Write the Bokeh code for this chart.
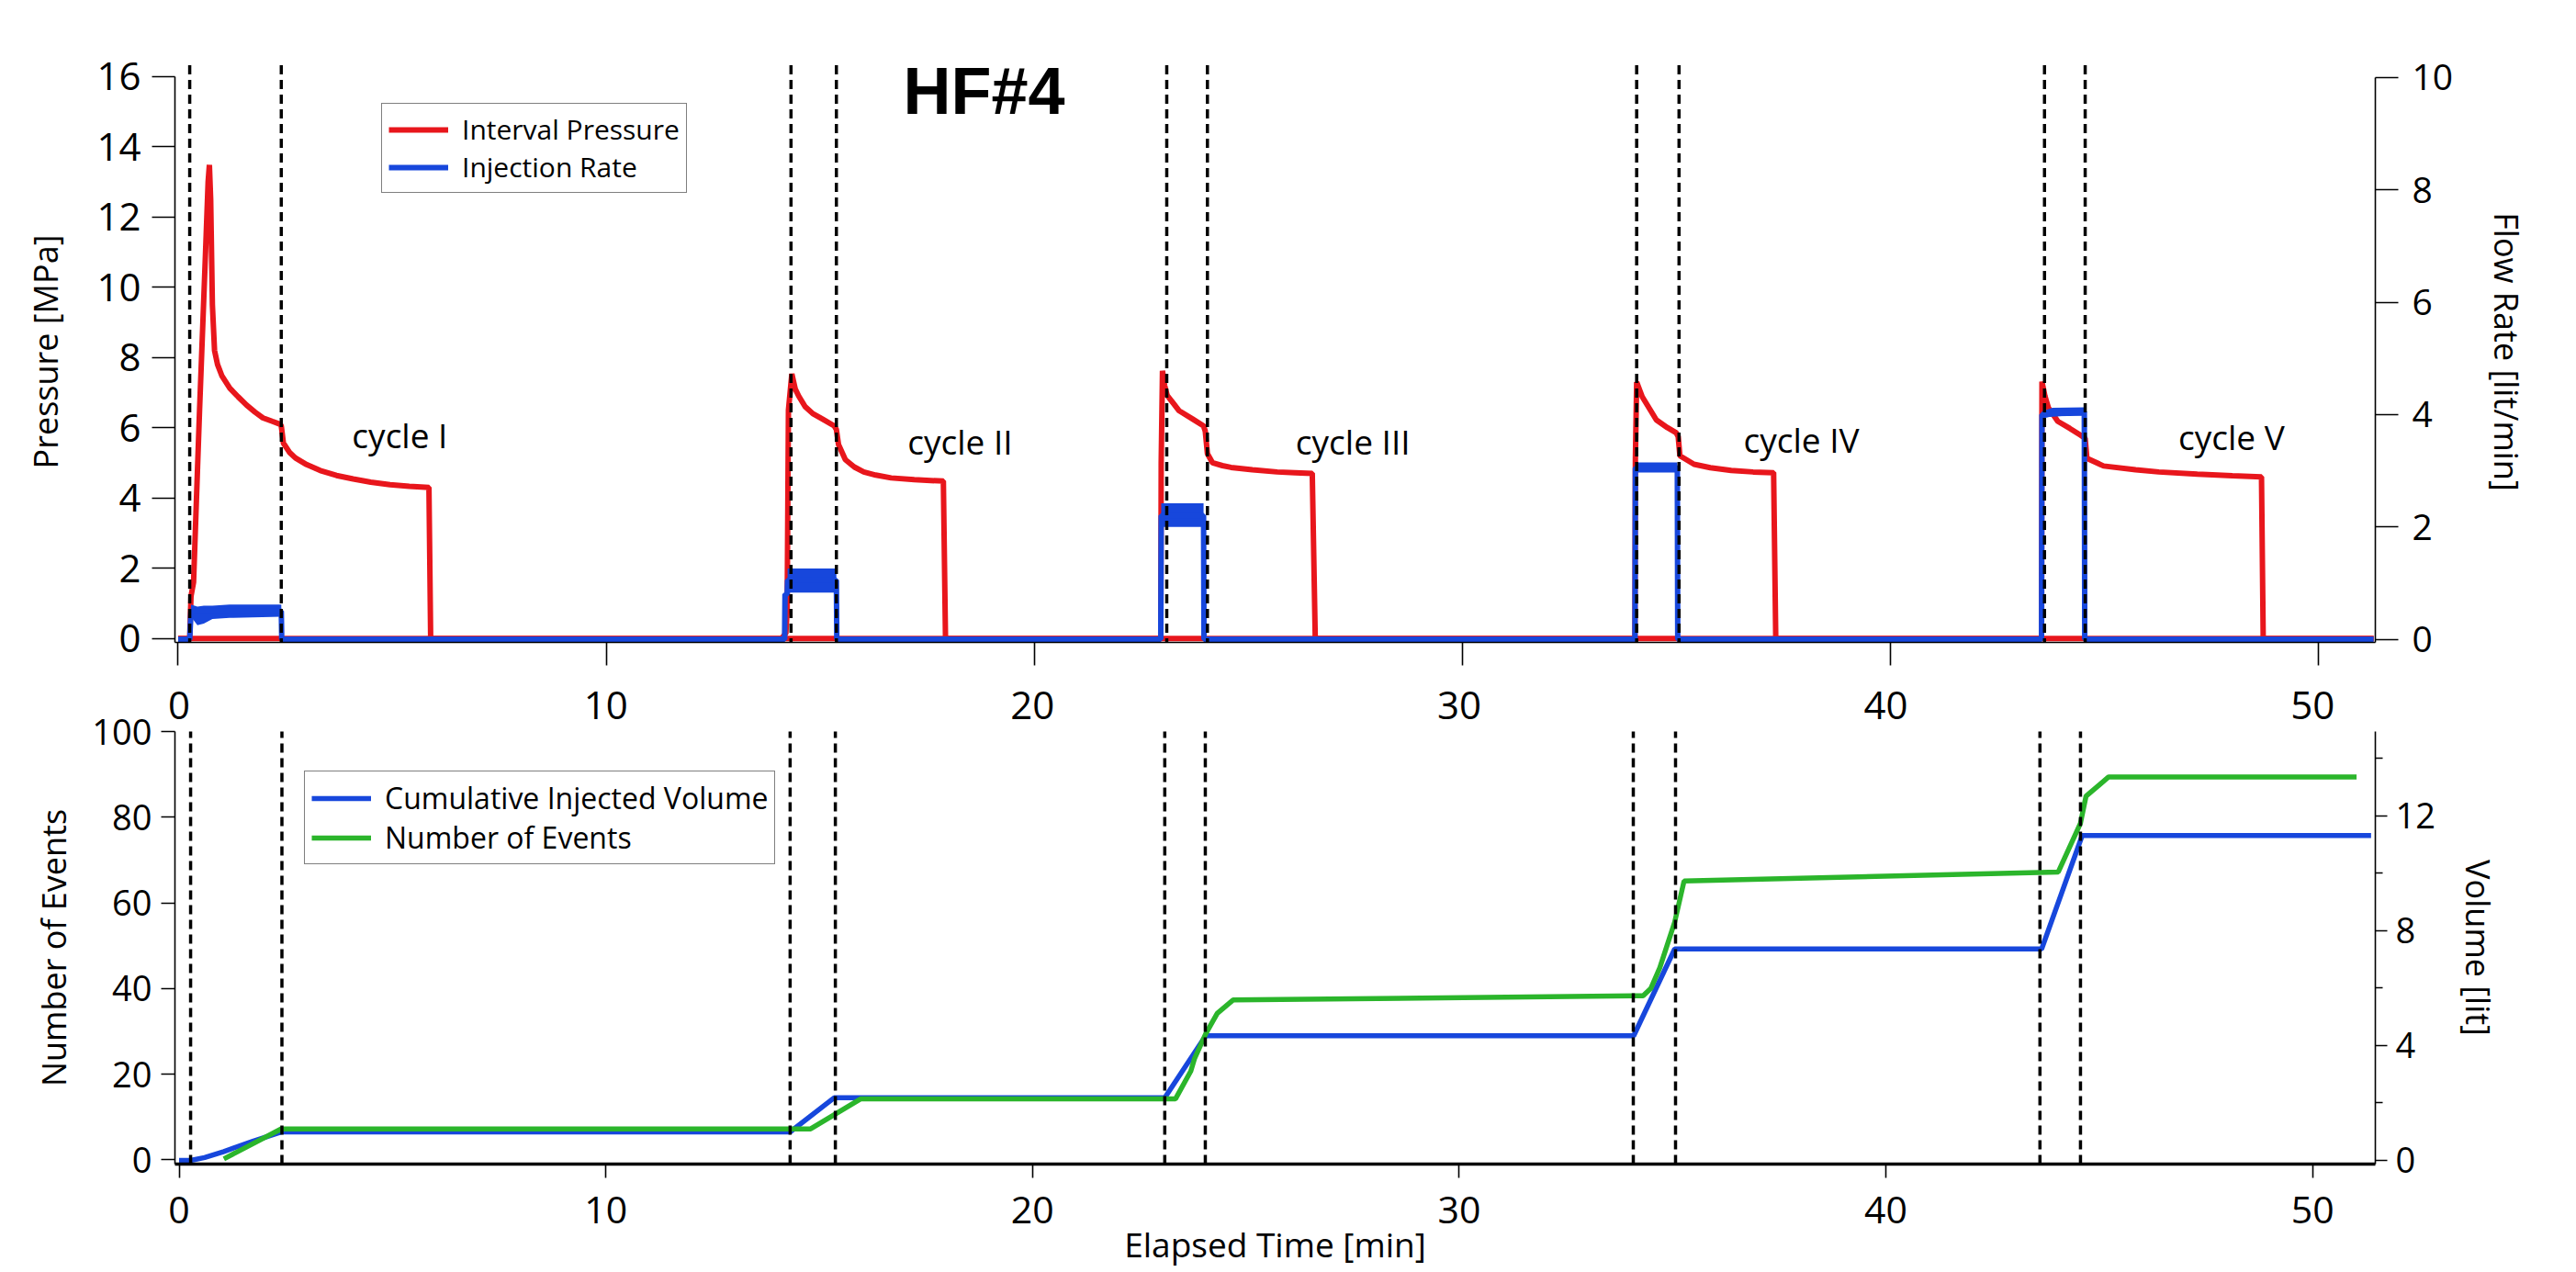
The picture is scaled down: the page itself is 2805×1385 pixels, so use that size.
from bokeh.plotting import figure
from bokeh.models import (Range1d, LinearAxis, FixedTicker, Arrow, ColumnDataSource,
                          Legend, LegendItem)
from bokeh.layouts import column
from bokeh.embed import file_html
from bokeh.resources import INLINE
from bokeh.core.properties import value

# ---------------------------------------------------------------- data
# top panel : interval pressure [MPa] against elapsed time [min]
pressure_t = [0.0, 0.27, 0.30, 0.36, 0.50, 0.64, 0.70, 0.73, 0.76, 0.80, 0.85, 0.92, 1.02, 1.21,
              1.40, 1.60, 1.80, 1.98, 2.20, 2.38, 2.41, 2.46, 2.60, 2.74, 3.00, 3.32, 3.70, 4.09,
              4.50, 4.95, 5.40, 5.86, 5.90,
              14.10, 14.20, 14.23, 14.26, 14.34, 14.42, 14.50, 14.65, 14.83, 15.05, 15.33, 15.38,
              15.43, 15.59, 15.80, 16.02, 16.30, 16.66, 17.20, 17.88, 17.93,
              22.96, 22.97, 23.00, 23.05, 23.11, 23.25, 23.39, 23.70, 23.96, 24.00, 24.05, 24.17,
              24.40, 24.60, 25.10, 25.68, 26.10, 26.50, 26.57,
              34.04, 34.05, 34.08, 34.21, 34.40, 34.54, 34.80, 35.00, 35.05, 35.09, 35.42, 35.80,
              36.29, 36.80, 37.28, 37.33,
              43.54, 43.55, 43.62, 43.70, 43.92, 44.20, 44.45, 44.56, 44.60, 44.99, 45.74, 46.28,
              47.18, 48.00, 48.68, 48.72, 51.30]
pressure = [0.0, 0.0, 1.2, 1.6, 6.5, 11.0, 13.0, 13.48, 12.5, 9.5, 8.2, 7.8, 7.48, 7.12,
            6.88, 6.64, 6.44, 6.28, 6.18, 6.10, 6.05, 5.56, 5.30, 5.14, 4.95, 4.78, 4.64, 4.54,
            4.45, 4.38, 4.33, 4.30, 0.0,
            0.0, 0.15, 0.8, 6.5, 7.53, 7.10, 6.90, 6.60, 6.40, 6.25, 6.05, 5.95,
            5.52, 5.09, 4.88, 4.74, 4.65, 4.57, 4.52, 4.48, 0.0,
            0.0, 5.0, 7.62, 7.20, 6.92, 6.70, 6.48, 6.25, 6.05, 5.90, 5.26, 5.00,
            4.92, 4.87, 4.80, 4.74, 4.72, 4.70, 0.0,
            0.0, 5.1, 7.30, 6.88, 6.50, 6.22, 6.00, 5.86, 5.75, 5.20, 4.96, 4.86,
            4.78, 4.74, 4.72, 0.0,
            0.0, 7.31, 6.90, 6.57, 6.18, 5.98, 5.79, 5.70, 5.13, 4.91, 4.80, 4.74,
            4.68, 4.63, 4.60, 0.0, 0.0]
# second pressure trace that stays at zero
pressure_zero_t = [0.0, 51.30]
pressure_zero = [0.0, 0.0]

# top panel : injection rate [lit/min]
flow_t = [0.0, 0.27, 0.30, 2.41, 2.42, 14.17, 14.18, 14.23, 14.24, 15.38, 15.39,
          22.96, 22.97, 23.96, 23.97, 34.04, 34.05, 35.03, 35.04, 43.54, 43.55, 44.54, 44.55, 51.30]
flow = [0.0, 0.0, 0.50, 0.50, 0.0, 0.0, 0.80, 0.80, 1.05, 1.05, 0.0,
        0.0, 2.20, 2.20, 0.0, 0.0, 3.05, 3.05, 0.0, 0.0, 4.00, 4.05, 0.0, 0.0]
# fluctuation envelope of the injection rate in each injection phase
flow_band_t = [[0.30, 0.45, 0.60, 0.80, 1.20, 2.41], [14.24, 15.38], [22.97, 23.96],
               [34.05, 35.03], [43.55, 43.80, 44.54]]
flow_band_lo = [[0.40, 0.25, 0.28, 0.36, 0.38, 0.40], [0.83, 0.83], [2.00, 2.00],
                [2.97, 2.97], [3.93, 3.97, 3.98]]
flow_band_hi = [[0.62, 0.58, 0.60, 0.60, 0.62, 0.62], [1.26, 1.26], [2.42, 2.42],
                [3.15, 3.15], [4.06, 4.12, 4.13]]

# bottom panel : cumulative injected volume [lit]
volume_t = [0.0, 0.27, 0.60, 1.05, 1.73, 2.39, 14.32, 15.35, 23.10, 24.06, 34.09, 35.05,
            43.65, 44.60, 51.37]
volume = [0.0, 0.0, 0.10, 0.31, 0.67, 0.99, 0.99, 2.18, 2.18, 4.34, 4.34, 7.36,
          7.36, 11.31, 11.31]
# bottom panel : number of events
events_t = [1.05, 2.39, 14.80, 15.97, 23.35, 23.71, 23.80, 24.06, 24.33, 24.70, 34.31, 34.49,
            34.70, 35.05, 35.27, 44.04, 44.56, 44.69, 45.22, 51.03]
events = [0.2, 7.2, 7.2, 14.2, 14.2, 20.7, 23.7, 29.4, 34.2, 37.3, 38.3, 40.0,
          44.8, 55.5, 65.1, 67.2, 78.6, 84.9, 89.4, 89.4]

# start / end of each injection phase [min]
phase_bounds = [0.27, 2.41, 14.32, 15.38, 23.10, 24.05, 34.08, 35.07, 43.61, 44.56]

cycle_names = ["cycle I", "cycle II", "cycle III", "cycle IV", "cycle V"]
cycle_label_x = [5.18, 18.27, 27.45, 37.93, 47.98]
cycle_label_y = [5.80, 5.61, 5.61, 5.67, 5.74]
title_text = ["HF#4"]
title_x = [18.83]
title_y = [15.58]

time_ticks = [0, 10, 20, 30, 40, 50]
pressure_ticks = [0, 2, 4, 6, 8, 10, 12, 14, 16]
flow_ticks = [0, 2, 4, 6, 8, 10]
events_ticks = [0, 20, 40, 60, 80, 100]
volume_ticks = [0, 4, 8, 12]
volume_minor_ticks = [2, 6, 10, 14]

# ---------------------------------------------------------------- style
FONT = "Open Sans"
RED = "#e8161c"
BLUE = "#1747dc"
GREEN = "#2bb52b"
W = 2800

X1 = (-0.075, 51.34)
Y1 = (-0.112, 16.434)
F1 = (-0.056, 10.294)
DASH_TOP = 17.32          # phase markers reach above the pressure frame
X2 = (-0.097, 51.47)
Y2 = (-1.008, 100.0)
V2 = (-0.128, 14.93)


def style_axis(ax, size, tick_out, standoff, width=1.6):
    ax.axis_line_color = "black"
    ax.axis_line_width = width
    ax.major_tick_line_color = "black"
    ax.major_tick_line_width = 1.6
    ax.major_tick_out = tick_out
    ax.major_tick_in = 0
    ax.minor_tick_line_color = None
    ax.major_label_text_font = FONT
    ax.major_label_text_font_size = size
    ax.major_label_text_color = "black"
    ax.major_label_standoff = standoff
    ax.axis_label_text_font = FONT
    ax.axis_label_text_font_style = "normal"
    ax.axis_label_text_font_size = "36px"
    ax.axis_label_text_color = "black"


def style_legend(leg, size):
    leg.label_text_font = FONT
    leg.label_text_font_size = size
    leg.label_text_color = "black"
    leg.glyph_width = 65
    leg.glyph_height = 30
    leg.label_standoff = 15
    leg.padding = 7
    leg.spacing = 0
    leg.margin = 0
    leg.border_line_color = "black"
    leg.border_line_width = 1.5
    leg.background_fill_alpha = 1.0


# ---------------------------------------------------------------- top panel
p1 = figure(width=W, height=727, output_backend="svg", toolbar_location=None,
            x_range=Range1d(*X1), y_range=Range1d(*Y1),
            min_border_left=190, min_border_right=214, min_border_top=66, min_border_bottom=28)
p1.extra_y_ranges = {"flow": Range1d(*F1)}
p1.grid.visible = False
p1.outline_line_color = None
p1.background_fill_color = "white"
p1.border_fill_color = "white"

style_axis(p1.xaxis[0], "1px", 25, 0)
p1.xaxis[0].ticker = FixedTicker(ticks=time_ticks)
p1.xaxis[0].major_label_overrides = {t: "" for t in time_ticks}

style_axis(p1.yaxis[0], "42px", 25, 12)
p1.yaxis[0].ticker = FixedTicker(ticks=pressure_ticks)
p1.yaxis[0].bounds = (Y1[0], 16)
p1.yaxis[0].axis_label = "Pressure [MPa]"
p1.yaxis[0].axis_label_standoff = 28

ax_flow = LinearAxis(y_range_name="flow", ticker=FixedTicker(ticks=flow_ticks),
                     axis_label="Flow Rate [lit/min]")
style_axis(ax_flow, "39px", 25, 15)
ax_flow.bounds = (F1[0], 10)
ax_flow.axis_label_standoff = 31
p1.add_layout(ax_flow, "right")

r_press = p1.line(pressure_t, pressure, line_color=RED, line_width=6)
p1.line(pressure_zero_t, pressure_zero, line_color=RED, line_width=6)
for bt, lo, hi in zip(flow_band_t, flow_band_lo, flow_band_hi):
    p1.varea(x=bt, y1=lo, y2=hi, fill_color=BLUE, y_range_name="flow")
r_flow = p1.line(flow_t, flow, line_color=BLUE, line_width=6, y_range_name="flow")

p1.text(x=cycle_label_x, y=cycle_label_y, text=cycle_names, text_font=value(FONT),
        text_font_size="37px", text_align="center", text_baseline="middle", text_color="black")
p1.text(x=title_x, y=title_y, text=title_text, text_font=value("Liberation Sans"),
        text_font_style="bold", text_font_size="72px", text_align="center",
        text_baseline="middle", text_color="black")

dash1 = ColumnDataSource(dict(x=phase_bounds,
                              y0=[Y1[0] - 6] * len(phase_bounds),
                              y1=[DASH_TOP] * len(phase_bounds)))
p1.add_layout(Arrow(end=None, source=dash1, x_start="x", y_start="y0", x_end="x", y_end="y1",
                    line_color="black", line_width=3.5, line_dash="10 6"))

leg1 = Legend(items=[LegendItem(label="Interval Pressure", renderers=[r_press]),
                     LegendItem(label="Injection Rate", renderers=[r_flow])],
              location=(225, 489))
style_legend(leg1, "30px")
p1.add_layout(leg1, "center")

# ---------------------------------------------------------------- bottom panel
p2 = figure(width=W, height=658, output_backend="svg", toolbar_location=None,
            x_range=Range1d(*X2), y_range=Range1d(*Y2),
            min_border_left=189, min_border_right=208, min_border_top=69, min_border_bottom=118)
p2.extra_y_ranges = {"vol": Range1d(*V2)}
p2.grid.visible = False
p2.outline_line_color = None
p2.background_fill_color = "white"
p2.border_fill_color = "white"

style_axis(p2.xaxis[0], "41px", 15, 20, width=3.5)
p2.xaxis[0].ticker = FixedTicker(ticks=time_ticks)
p2.xaxis[0].axis_label = "Elapsed Time [min]"
p2.xaxis[0].axis_label_text_font_size = "37px"
p2.xaxis[0].axis_label_standoff = -6

style_axis(p2.yaxis[0], "38px", 15, 10)
p2.yaxis[0].ticker = FixedTicker(ticks=events_ticks)
p2.yaxis[0].axis_label = "Number of Events"
p2.yaxis[0].axis_label_standoff = 14

ax_vol = LinearAxis(y_range_name="vol",
                    ticker=FixedTicker(ticks=volume_ticks, minor_ticks=volume_minor_ticks),
                    axis_label="Volume [lit]")
style_axis(ax_vol, "38px", 13, 9)
ax_vol.minor_tick_line_color = "black"
ax_vol.minor_tick_line_width = 1.6
ax_vol.minor_tick_out = 8
ax_vol.minor_tick_in = 0
ax_vol.axis_label_standoff = 19
p2.add_layout(ax_vol, "right")

# tick labels of the upper panel's time axis (they sit between the two panels)
ax_time_upper = LinearAxis(ticker=FixedTicker(ticks=time_ticks))
style_axis(ax_time_upper, "42px", 0, 14)
ax_time_upper.axis_line_color = None
ax_time_upper.major_tick_line_color = None
p2.add_layout(ax_time_upper, "above")

r_vol = p2.line(volume_t, volume, line_color=BLUE, line_width=5.5, y_range_name="vol")
r_ev = p2.line(events_t, events, line_color=GREEN, line_width=5.5)

dash2 = ColumnDataSource(dict(x=phase_bounds,
                              y0=[Y2[0]] * len(phase_bounds),
                              y1=[Y2[1] + 30] * len(phase_bounds)))
p2.add_layout(Arrow(end=None, source=dash2, x_start="x", y_start="y0", x_end="x", y_end="y1",
                    line_color="black", line_width=3.5, line_dash="10 6"))

leg2 = Legend(items=[LegendItem(label="Cumulative Injected Volume", renderers=[r_vol]),
                     LegendItem(label="Number of Events", renderers=[r_ev])],
              location=(141, 326))
style_legend(leg2, "32px")
p2.add_layout(leg2, "center")

layout = column(p1, p2, spacing=0)
open("out.html", "w").write(file_html(layout, INLINE))
